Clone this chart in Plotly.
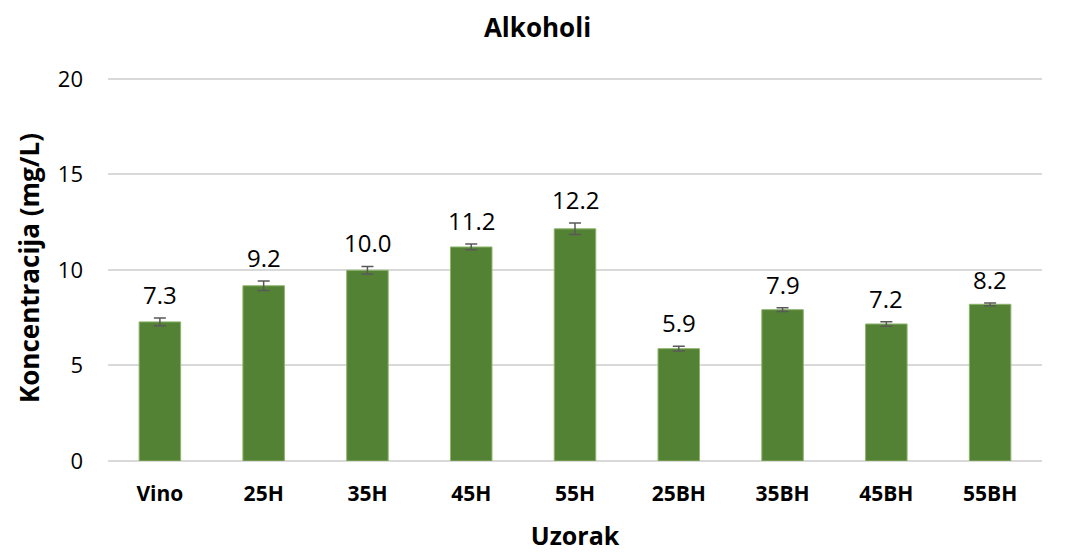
import plotly.graph_objects as go

categories = ["Vino", "25H", "35H", "45H", "55H", "25BH", "35BH", "45BH", "55BH"]
values = [7.28, 9.17, 9.98, 11.2, 12.15, 5.88, 7.92, 7.17, 8.2]
errors = [0.2, 0.25, 0.2, 0.15, 0.3, 0.12, 0.1, 0.12, 0.07]
y_ticks = [0, 5, 10, 15, 20]

FONT = "Open Sans, sans-serif"

fig = go.Figure()
fig.add_trace(go.Bar(
    x=categories, y=values, width=0.4,
    marker=dict(color="#548235", line=dict(color="#8db56b", width=1)),
    error_y=dict(type="data", array=errors, visible=True,
                 color="#595959", thickness=1.5, width=6),
    showlegend=False, hoverinfo="x+y",
))

for c, v, e in zip(categories, values, errors):
    fig.add_annotation(
        x=c, y=v + e, xref="x", yref="y", text=f"{v:.1f}",
        showarrow=False, yanchor="bottom", yshift=5,
        font=dict(family=FONT, size=24, color="#000000"),
    )

# page body has an 8px margin, so the figure is offset by 8px
fig.update_layout(
    width=1059, height=544,
    margin=dict(l=100, r=25, t=67, b=91),
    paper_bgcolor="white", plot_bgcolor="white",
    title=dict(text="<b>Alkoholi</b>", x=0.5, xanchor="center", y=1 - 20 / 544, yanchor="middle",
               font=dict(family=FONT, size=26, color="#000000")),
    font=dict(family=FONT, color="#000000"),
)
fig.update_xaxes(
    title=dict(text="<b>Uzorak</b>", font=dict(family=FONT, size=25, color="#000000"), standoff=24),
    tickfont=dict(family=FONT, size=21, color="#000000"),
    tickprefix="<b>", ticksuffix="</b>", ticklabelstandoff=18,
    showgrid=False, showline=False, ticks="", automargin=False,
)
fig.update_yaxes(
    range=[0, 20.2], tickvals=y_ticks,
    title=dict(text="<b>Koncentracija (mg/L)</b>", font=dict(family=FONT, size=26, color="#000000"), standoff=10),
    tickfont=dict(family=FONT, size=22, color="#000000"),
    ticklabelstandoff=24, automargin=False,
    showgrid=True, gridcolor="#d9d9d9", gridwidth=1.5,
    zeroline=True, zerolinecolor="#d9d9d9", zerolinewidth=1.5,
    ticks="", ticklen=0, showline=False,
)

fig.write_html("out.html")
